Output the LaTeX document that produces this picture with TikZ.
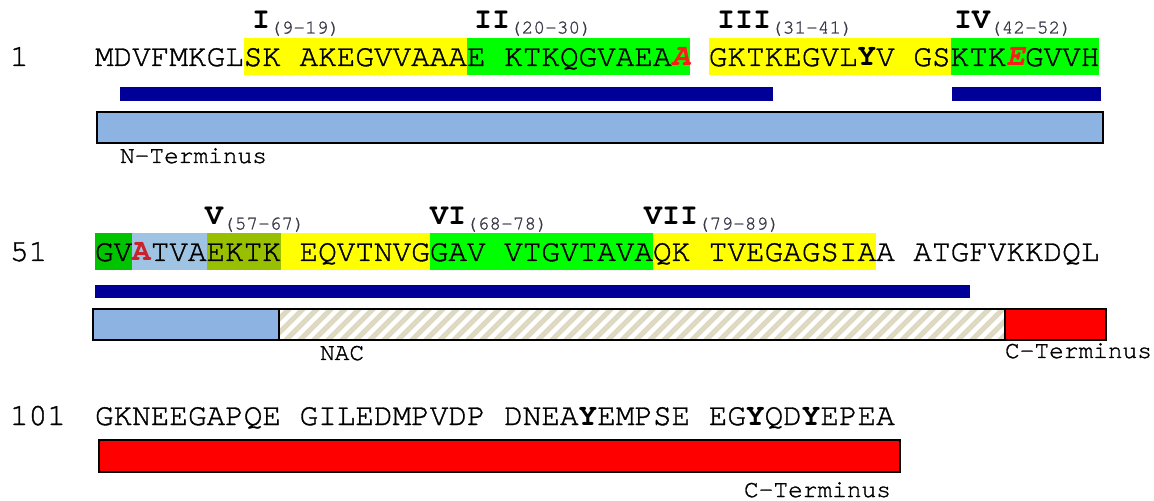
\documentclass[tikz,border=0pt]{standalone}
\usepackage{fontspec}
\setmainfont{TeX Gyre Cursor}[UprightFeatures={FakeBold=1.2}]
\setmonofont{TeX Gyre Cursor}[UprightFeatures={FakeBold=1.2}]
\definecolor{hlyellow}{HTML}{FFFF00}
\definecolor{hlgreen}{HTML}{00FF00}
\definecolor{hldkgreen}{HTML}{00C400}
\definecolor{hlolive}{HTML}{99C000}
\definecolor{hlltblue}{HTML}{9FC3E2}
\definecolor{boxblue}{HTML}{8DB3E2}
\definecolor{barnavy}{HTML}{000099}
\definecolor{boxred}{HTML}{FF0000}
\definecolor{hatchc}{HTML}{DDD9C3}
\definecolor{mutred}{HTML}{FF1A1A}
\definecolor{mutdkred}{HTML}{C8232D}
\definecolor{rngc}{HTML}{3A3A48}
\newcommand\rdl[1]{\textcolor{mutred}{\bfseries\itshape #1}}
\newcommand\rdb[1]{\textcolor{mutdkred}{\bfseries #1}}
\newcommand\rng[1]{\raisebox{-4.5bp}{\fontsize{19.5bp}{19.5bp}\selectfont\mdseries\color{rngc}#1}}
\begin{document}
\begin{tikzpicture}[x=1bp,y=-1bp]
\tikzset{
  seq/.style={anchor=base west, inner sep=0pt, outer sep=0pt, font=\fontsize{31bp}{31bp}\selectfont\ttfamily},
  lab/.style={anchor=base west, inner sep=0pt, outer sep=0pt, font=\fontsize{24.5bp}{24.5bp}\selectfont\ttfamily},
  num/.style={anchor=base west, inner sep=0pt, outer sep=0pt, font=\fontsize{30bp}{30bp}\selectfont\ttfamily\bfseries},
  bar/.style={fill=barnavy, draw=none},
  box/.style={draw=black, line width=2bp},
}
\useasboundingbox (0,0) rectangle (1154,501);
% ---------- row 1 highlights ----------
\fill[hlyellow] ({95+8*18.6},38) rectangle ({95+20*18.6},75);
\fill[hlgreen]  ({95+20*18.6},38) rectangle ({95+32*18.6},75);
\fill[hlyellow] ({95+33*18.6},38) rectangle ({95+46*18.6},75);
\fill[hlgreen]  ({95+46*18.6},38) rectangle ({95+54*18.6},75);
% ---------- row 2 highlights ----------
\fill[hldkgreen] ({95+0*18.6},233) rectangle ({95+2*18.6},270);
\fill[hlltblue]  ({95+2*18.6},233) rectangle ({95+6*18.6},270);
\fill[hlolive]   ({95+6*18.6},233) rectangle ({95+10*18.6},270);
\fill[hlyellow]  ({95+10*18.6},233) rectangle ({95+18*18.6},270);
\fill[hlgreen]   ({95+18*18.6},233) rectangle ({95+30*18.6},270);
\fill[hlyellow]  ({95+30*18.6},233) rectangle ({95+42*18.6},270);
% ---------- row 1 ----------
\node[num] (n1) at (252,29) {I\rng{(9-19)}};
\node[num] (n2) at (474,29) {II\rng{(20-30)}};
\node[num] (n3) at (717,29) {III\rng{(31-41)}};
\node[num] (n4) at (954,29) {IV\rng{(42-52)}};
\node[seq] (p1) at (10,66) {1};
\node[seq] (s1) at (95,66) {MDVFMKGLSK AKEGVVAAAE KTKQGVAEA\rdl{A} GKTKEGVL\textbf{Y}V GSKTK\rdl{E}GVVH};
\fill[bar] (120,87) rectangle (773,101);
\fill[bar] (952,87) rectangle (1101,101);
\draw[box, fill=boxblue] (97,112) rectangle (1103,143);
\node[lab] (nt) at (120,163) {N-Terminus};
% ---------- row 2 ----------
\node[num] (n5) at (205,225) {V\rng{(57-67)}};
\node[num] (n6) at (430,225) {VI\rng{(68-78)}};
\node[num] (n7) at (644,225) {VII\rng{(79-89)}};
\node[seq] (p2) at (10,261) {51};
\node[seq] (s2) at (95,261) {GV\rdb{A}TVAEKTK EQVTNVGGAV VTGVTAVAQK TVEGAGSIAA ATGFVKKDQL};
\fill[bar] (95,285) rectangle (970,298);
\fill[boxblue] (93,309) rectangle (279,340);
\begin{scope}
  \clip (279,309) rectangle (1005,340);
  \foreach \k in {0,...,57} {
    \draw[hatchc, line width=5bp] ({279-40+\k*14},345) -- ++(42,-42);
  }
\end{scope}
\fill[boxred] (1005,309) rectangle (1106,340);
\draw[box] (93,309) rectangle (1106,340);
\draw[box] (279,309) -- (279,340);
\draw[box] (1005,309) -- (1005,340);
\node[lab] (nac) at (320,360) {NAC};
\node[lab] (ct1) at (1005,358) {C-Terminus};
% ---------- row 3 ----------
\node[seq] (p3) at (10,425) {101};
\node[seq] (s3) at (95,425) {GKNEEGAPQE GILEDMPVDP DNEA\textbf{Y}EMPSE EG\textbf{Y}QD\textbf{Y}EPEA};
\draw[box, fill=boxred] (99,440) rectangle (900,472);
\node[lab] (ct2) at (744,497) {C-Terminus};
\end{tikzpicture}
\end{document}
